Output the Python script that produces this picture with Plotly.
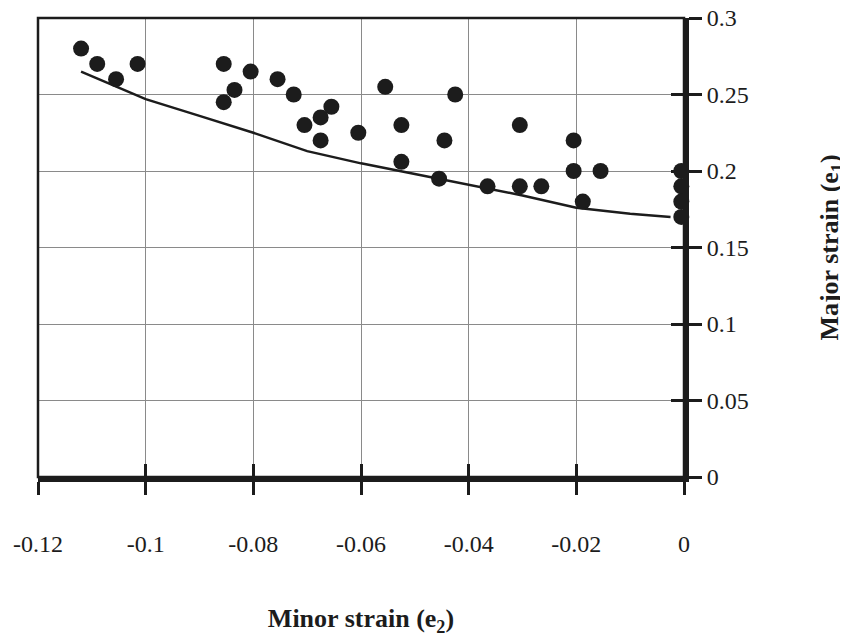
import plotly.graph_objects as go

# Measured points (minor strain e2, major strain e1)
pts_x = [-0.112, -0.109, -0.1055, -0.1015, -0.0855, -0.0835, -0.0855, -0.0805,
         -0.0755, -0.0725, -0.0705, -0.0675, -0.0655, -0.0675, -0.0605, -0.0555,
         -0.0525, -0.0525, -0.0445, -0.0425, -0.0455, -0.0365, -0.0305, -0.0305,
         -0.0265, -0.0205, -0.0205, -0.0188, -0.0155, -0.0005, -0.0005, -0.0005, -0.0005]
pts_y = [0.280, 0.270, 0.260, 0.270, 0.270, 0.253, 0.245, 0.265,
         0.260, 0.250, 0.230, 0.235, 0.242, 0.220, 0.225, 0.255,
         0.230, 0.206, 0.220, 0.250, 0.195, 0.190, 0.230, 0.190,
         0.190, 0.220, 0.200, 0.180, 0.200, 0.200, 0.190, 0.180, 0.170]

# Forming limit curve
curve_x = [-0.112, -0.100, -0.090, -0.080, -0.070, -0.060, -0.050, -0.040,
           -0.030, -0.020, -0.010, -0.0025]
curve_y = [0.265, 0.247, 0.236, 0.225, 0.213, 0.205, 0.198, 0.191,
           0.184, 0.176, 0.172, 0.170]

x_ticks = [-0.12, -0.1, -0.08, -0.06, -0.04, -0.02, 0]
x_labels = ["-0.12", "-0.1", "-0.08", "-0.06", "-0.04", "-0.02", "0"]
y_ticks = [0, 0.05, 0.1, 0.15, 0.2, 0.25, 0.3]
y_labels = ["0", "0.05", "0.1", "0.15", "0.2", "0.25", "0.3"]

INK = "#1c1c1c"
FONT = "Liberation Serif"

fig = go.Figure()
fig.add_trace(go.Scatter(x=curve_x, y=curve_y, mode="lines",
                         line=dict(color=INK, width=2.5), showlegend=False,
                         cliponaxis=False))
fig.add_trace(go.Scatter(x=pts_x, y=pts_y, mode="markers",
                         marker=dict(color=INK, size=16), showlegend=False,
                         cliponaxis=False))
# dummy trace so the overlay axes (inner half of cross ticks) are drawn
fig.add_trace(go.Scatter(x=[None], y=[None], xaxis="x2", yaxis="y2",
                         showlegend=False, hoverinfo="skip"))

common_tick = dict(tickcolor=INK, tickwidth=3, ticklen=13)

fig.update_layout(
    width=840, height=635,
    margin=dict(l=30, r=164, t=10, b=166),
    paper_bgcolor="white", plot_bgcolor="white",
    font=dict(family=FONT, color=INK, size=24),
    xaxis=dict(
        range=[-0.12, 0], tickvals=x_ticks, ticktext=x_labels,
        ticks="outside", **common_tick,
        showline=True, linecolor=INK, linewidth=5,
        showgrid=True, gridcolor="#8a8a8a", gridwidth=1, zeroline=False,
        ticklabelstandoff=28, automargin=False, ticklabeloverflow="allow",
        tickfont=dict(family=FONT, size=24, color=INK),
        title=dict(text="<b>Minor strain (e<sub>2</sub>)</b>",
                   font=dict(family=FONT, size=26, color=INK), standoff=55),
    ),
    yaxis=dict(
        range=[0, 0.3], tickvals=y_ticks, ticktext=y_labels, side="right",
        ticks="outside", **common_tick,
        showline=True, linecolor=INK, linewidth=5,
        showgrid=True, gridcolor="#8a8a8a", gridwidth=1, zeroline=False,
        ticklabelstandoff=0, automargin=False, ticklabeloverflow="allow",
        tickfont=dict(family=FONT, size=24, color=INK),
        title=dict(text="<b>Major strain (e<sub>1</sub>)</b>",
                   font=dict(family=FONT, size=26, color=INK), standoff=74),
    ),
    xaxis2=dict(range=[-0.12, 0], tickvals=x_ticks, overlaying="x", anchor="y2",
                side="bottom", ticks="inside", **common_tick,
                showticklabels=False, showgrid=False, zeroline=False,
                showline=False, automargin=False),
    yaxis2=dict(range=[0, 0.3], tickvals=y_ticks, overlaying="y", anchor="x2",
                side="right", ticks="inside", **common_tick,
                showticklabels=False, showgrid=False, zeroline=False,
                showline=False, automargin=False),
    shapes=[dict(type="rect", xref="paper", yref="paper", x0=0, x1=1, y0=0, y1=1,
                 line=dict(color=INK, width=2.5), layer="above")],
)

fig.write_html("out.html")
